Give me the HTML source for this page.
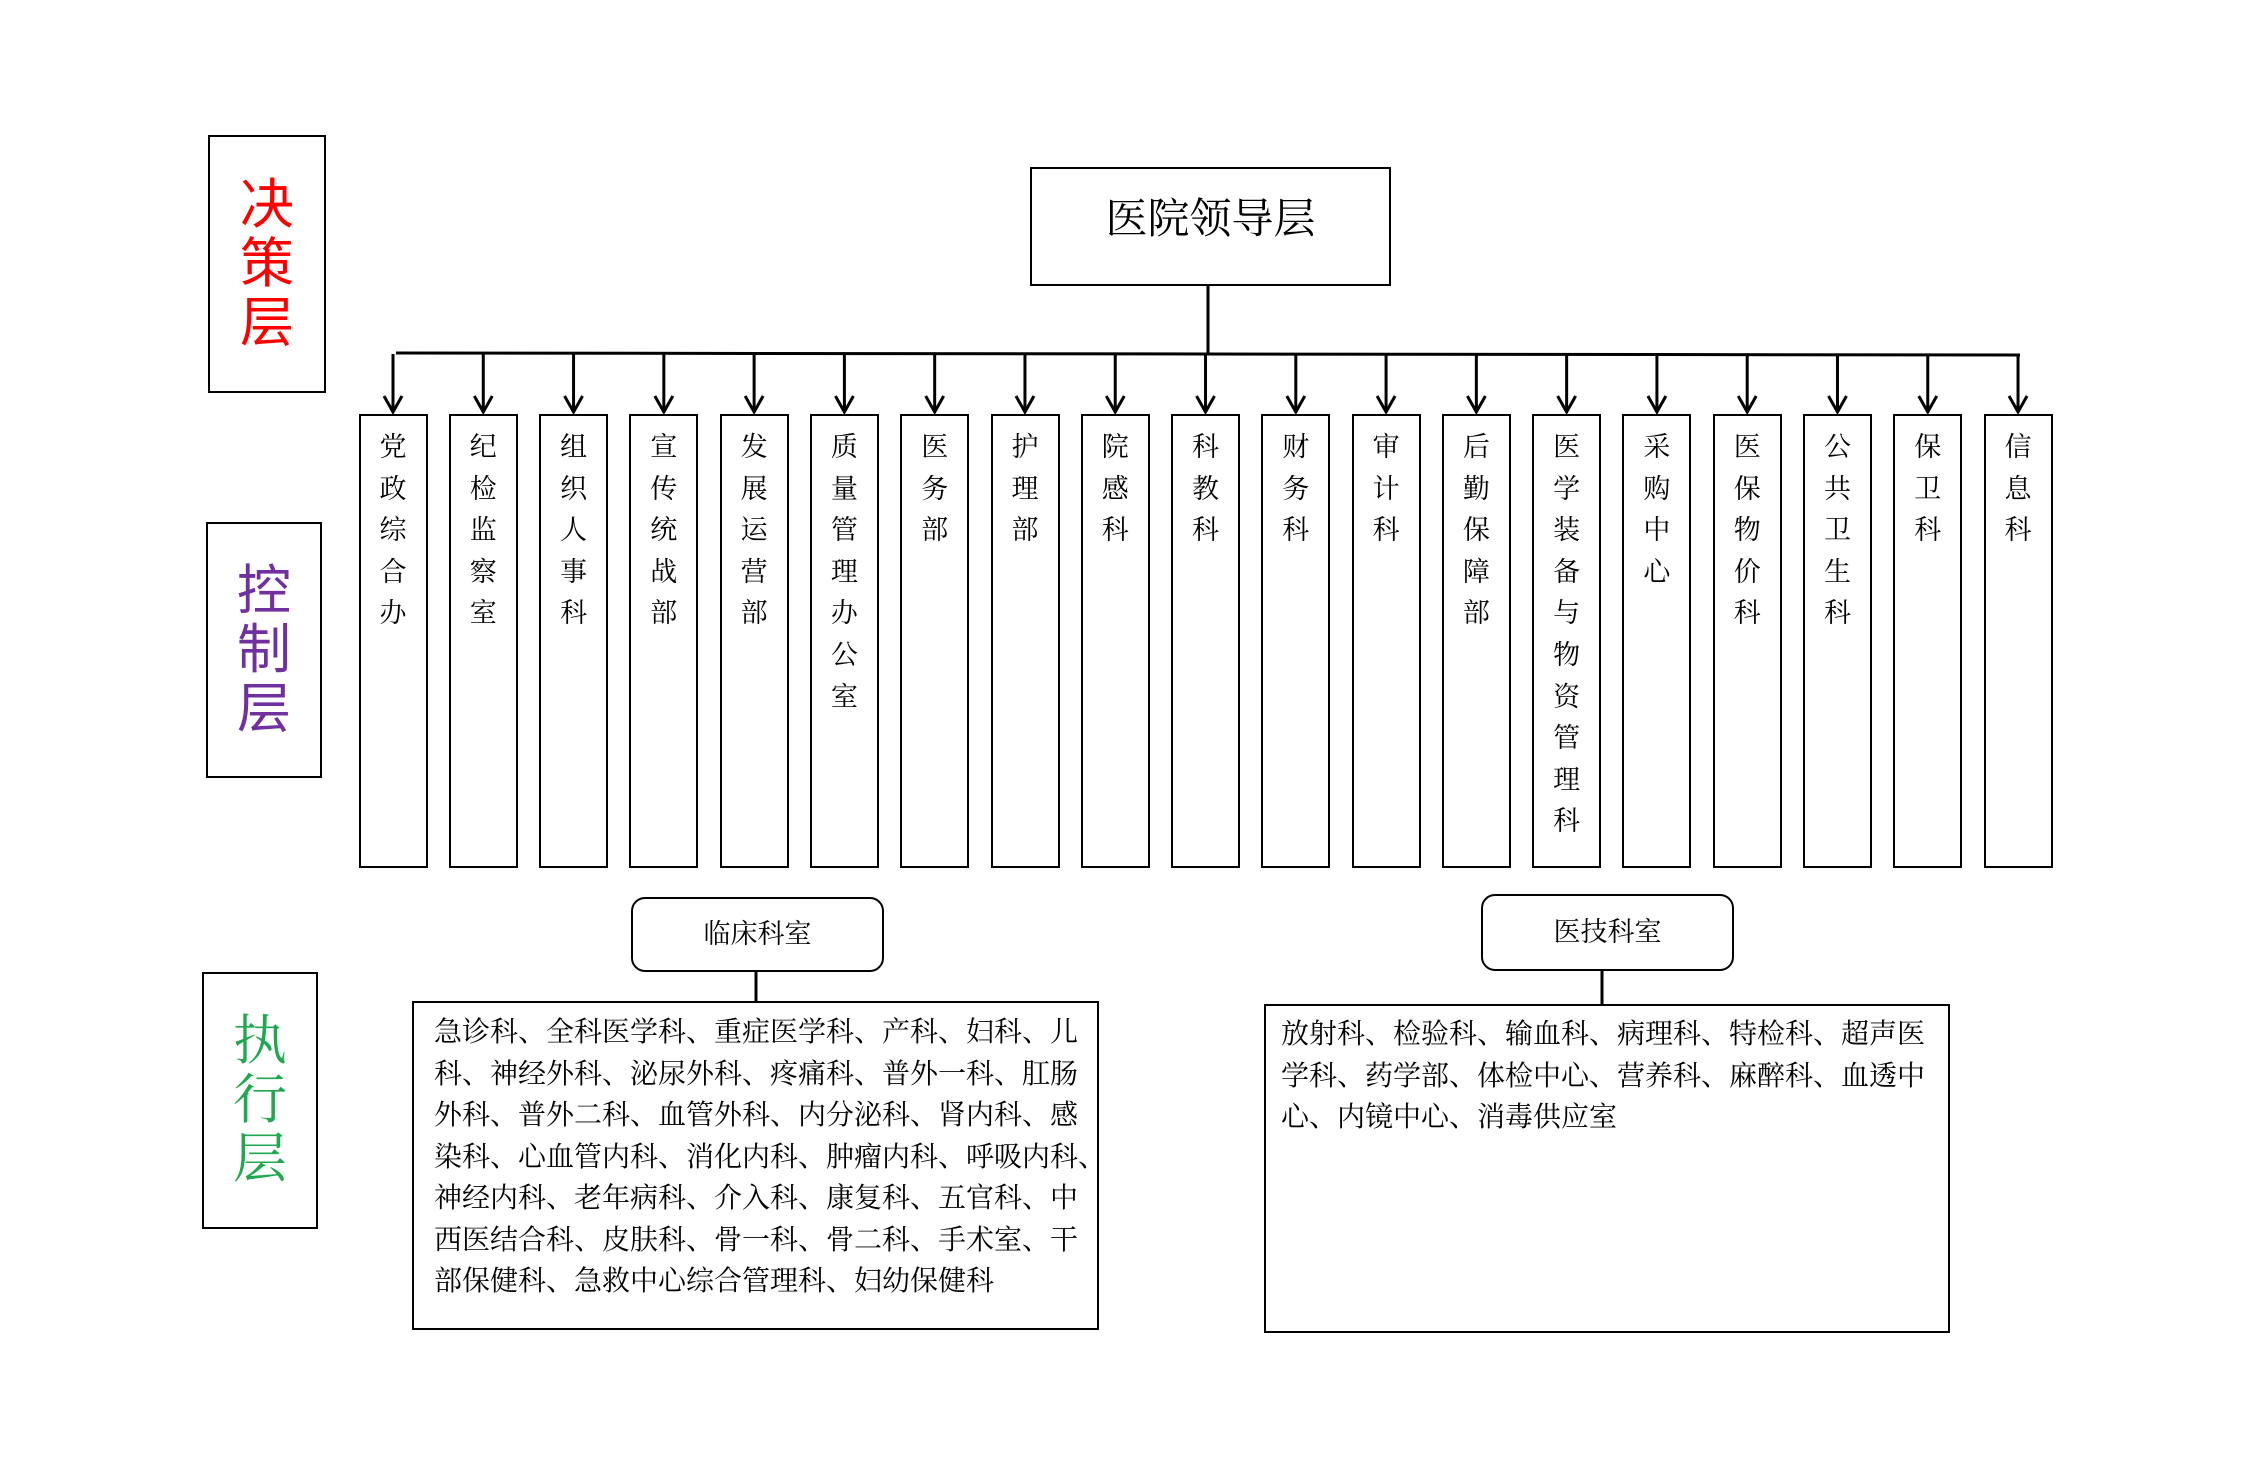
<!DOCTYPE html>
<html><head><meta charset="utf-8"><style>
html,body{margin:0;padding:0;background:#fff;}
body{width:2245px;height:1464px;position:relative;overflow:hidden;font-family:"Liberation Serif","Noto Serif CJK SC",serif;color:#000;}
.b{position:absolute;border:2.5px solid #000;box-sizing:border-box;}
.lay{position:absolute;font-family:"Liberation Sans","Noto Sans CJK SC",sans-serif;font-size:54px;line-height:59px;text-align:center;}
.v{position:absolute;top:414px;width:69px;height:454px;border:2.5px solid #000;box-sizing:border-box;text-align:center;font-size:27px;line-height:41.6px;padding-top:11px;}
.t{position:absolute;font-size:28px;line-height:41.5px;white-space:nowrap;}
</style></head><body>
<svg width="2245" height="1464" style="position:absolute;left:0;top:0" xmlns="http://www.w3.org/2000/svg">
<g stroke="#000" stroke-width="3" fill="none">
<line x1="1208" y1="285" x2="1208" y2="354"/>
<line x1="396" y1="353" x2="2020" y2="355"/>
<g id="arrows"></g>
<line x1="756" y1="971" x2="756" y2="1002"/>
<line x1="1602" y1="970" x2="1602" y2="1005"/>
</g>
</svg>
<div class="b" style="left:208px;top:135px;width:118px;height:258px"></div>
<div class="lay" style="left:208px;top:176px;width:118px;color:#ff0000">决<br>策<br>层</div>
<div class="b" style="left:206px;top:522px;width:116px;height:256px"></div>
<div class="lay" style="left:206px;top:562px;width:116px;color:#7030a0">控<br>制<br>层</div>
<div class="b" style="left:202px;top:972px;width:116px;height:257px"></div>
<div class="lay" style="left:202px;top:1012px;width:116px;color:#1fa84f;font-family:'Liberation Serif','Noto Serif CJK SC',serif">执<br>行<br>层</div>

<div class="b" style="left:1030px;top:167px;width:361px;height:119px"></div>
<div style="position:absolute;left:1030px;top:192px;width:361px;text-align:center;font-size:42px;line-height:56px">医院领导层</div>

<div id="cols"></div>

<div class="b" style="left:631px;top:897px;width:253px;height:75px;border-radius:14px"></div>
<div style="position:absolute;left:631px;top:915px;width:253px;text-align:center;font-size:27px;line-height:38px">临床科室</div>
<div class="b" style="left:1481px;top:894px;width:253px;height:77px;border-radius:14px"></div>
<div style="position:absolute;left:1481px;top:913px;width:253px;text-align:center;font-size:27px;line-height:38px">医技科室</div>

<div class="b" style="left:412px;top:1001px;width:687px;height:329px"></div>
<div class="t" style="left:434px;top:1012px">急诊科、全科医学科、重症医学科、产科、妇科、儿<br>科、神经外科、泌尿外科、疼痛科、普外一科、肛肠<br>外科、普外二科、血管外科、内分泌科、肾内科、感<br>染科、心血管内科、消化内科、肿瘤内科、呼吸内科、<br>神经内科、老年病科、介入科、康复科、五官科、中<br>西医结合科、皮肤科、骨一科、骨二科、手术室、干<br>部保健科、急救中心综合管理科、妇幼保健科</div>

<div class="b" style="left:1264px;top:1004px;width:686px;height:329px"></div>
<div class="t" style="left:1281px;top:1014px">放射科、检验科、输血科、病理科、特检科、超声医<br>学科、药学部、体检中心、营养科、麻醉科、血透中<br>心、内镜中心、消毒供应室</div>

<script>
var names=["党政综合办","纪检监察室","组织人事科","宣传统战部","发展运营部","质量管理办公室","医务部","护理部","院感科","科教科","财务科","审计科","后勤保障部","医学装备与物资管理科","采购中心","医保物价科","公共卫生科","保卫科","信息科"];
var h="",a="";
for(var i=0;i<19;i++){
 var l=358.5+90.28*i, c=l+34.5;
 h+='<div class="v" style="left:'+l.toFixed(1)+'px">'+names[i].split("").join("<br>")+'</div>';
 a+='<line x1="'+c+'" y1="354" x2="'+c+'" y2="412"/><polyline points="'+(c-9)+',396 '+c+',412 '+(c+9)+',396"/>';
}
document.getElementById("cols").innerHTML=h;
document.getElementById("arrows").innerHTML=a;
</script>
</body></html>
